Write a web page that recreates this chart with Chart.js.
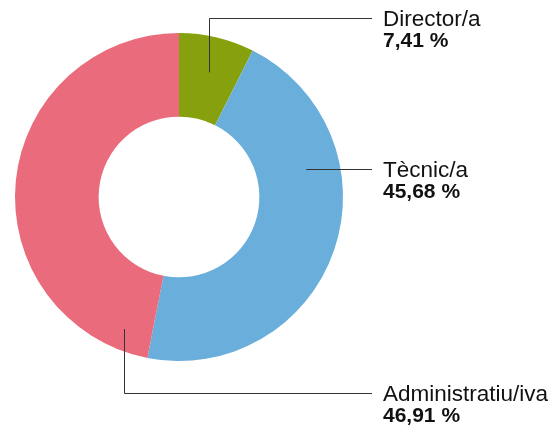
<!DOCTYPE html>
<html>
<head>
<meta charset="utf-8">
<script src="https://cdn.jsdelivr.net/npm/chart.js@4.4.1/dist/chart.umd.min.js"></script>
<style>
  html, body { margin: 0; padding: 0; background: #fff; }
  .chart-container { position: relative; width: 554px; height: 430px; }
</style>
</head>
<body>
<div class="chart-container">
  <canvas id="donutChartId"></canvas>
</div>
<script>
const categories = ["Director/a", "Tècnic/a", "Administratiu/iva"];
const shares = [7.41, 45.68, 46.91];
const shareLabels = ["7,41 %", "45,68 %", "46,91 %"];
const sliceColors = ["#86a10d", "#6aaedb", "#ea6c7c"];

// where each leader line starts (fraction along the arc, radius) and where its label sits
const LEADERS = [
  { along: 0.5, radius: 128, labelDy: -179 },
  { along: 0.31, radius: 130, labelDy: -28 },
  { along: 0.068, radius: 143, labelDy: 196 },
];

const leaderLabels = {
  id: "leaderLabels",
  afterDatasetsDraw(chart) {
    const { ctx } = chart;
    const arcs = chart.getDatasetMeta(0).data;
    ctx.save();
    arcs.forEach((arc, i) => {
      const { x, y, startAngle, endAngle } = arc.getProps(["x", "y", "startAngle", "endAngle"], true);
      const cfg = LEADERS[i];
      const a = startAngle + (endAngle - startAngle) * cfg.along;
      const ax = x + cfg.radius * Math.cos(a);
      const ay = y + cfg.radius * Math.sin(a);
      const ly = y + cfg.labelDy;
      const textX = x + 204;

      ctx.strokeStyle = "#333";
      ctx.lineWidth = 1;
      ctx.beginPath();
      ctx.moveTo(Math.round(ax) + 0.5, ay);
      ctx.lineTo(Math.round(ax) + 0.5, Math.round(ly) + 0.5);
      ctx.lineTo(textX - 11, Math.round(ly) + 0.5);
      ctx.stroke();

      ctx.fillStyle = "#111";
      ctx.textAlign = "left";
      ctx.textBaseline = "alphabetic";
      ctx.font = "22.5px 'Liberation Sans', Arial, sans-serif";
      ctx.fillText(categories[i], textX, ly + 8);
      ctx.font = "bold 21px 'Liberation Sans', Arial, sans-serif";
      ctx.fillText(shareLabels[i], textX, ly + 29);
    });
    ctx.restore();
  },
};

new Chart(document.getElementById("donutChartId"), {
  type: "doughnut",
  data: {
    labels: categories,
    datasets: [{
      data: shares,
      backgroundColor: sliceColors,
      borderWidth: 0,
    }],
  },
  options: {
    responsive: true,
    maintainAspectRatio: false,
    animation: false,
    cutout: "49%",
    layout: { padding: { left: 15, top: 33, right: 211, bottom: 69 } },
    plugins: {
      legend: { display: false },
      tooltip: { enabled: false },
    },
  },
  plugins: [leaderLabels],
});
</script>
</body>
</html>
